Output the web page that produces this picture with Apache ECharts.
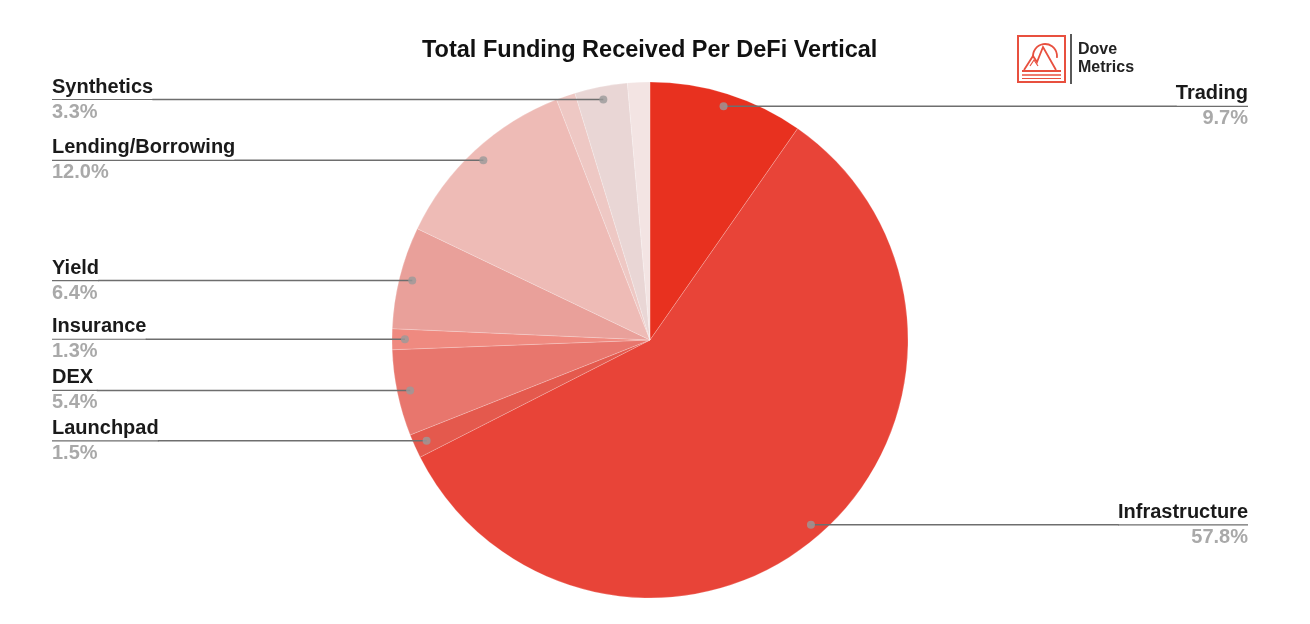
<!DOCTYPE html>
<html>
<head>
<meta charset="utf-8">
<script src="https://cdn.jsdelivr.net/npm/echarts@6/dist/echarts.min.js"></script>
<style>
html,body{margin:0;padding:0;background:#fff;}
#c{width:1310px;height:624px;}
</style>
</head>
<body>
<div id="c"></div>
<script>
var categories = ['Trading','Infrastructure','Launchpad','DEX','Insurance','Yield','Lending/Borrowing','Other (unlabeled)','Synthetics','Other 2 (unlabeled)'];
var values = [9.7, 57.8, 1.5, 5.4, 1.3, 6.4, 12.0, 1.2, 3.3, 1.4];
var labeled = [true, true, true, true, true, true, true, false, true, false];
var colors = ['#e8311f','#e84438','#e4594d','#e8766d','#ef8a80','#e9a09a','#eebbb6','#eec8c4','#e9d6d5','#f3e4e3'];

var FONT = '"Liberation Sans", Arial, sans-serif';

var pieData = categories.map(function(n,i){
  return {name:n, value:values[i], itemStyle:{color:colors[i]}};
});
var labelData = categories.map(function(n,i){
  return {name:n, value:values[i],
    label:{show:labeled[i]}, labelLine:{show:labeled[i]}};
});
// dot positions at mid-angle of each labeled slice (polar, angle in % of total)
var total = values.reduce(function(a,b){return a+b;},0);
var dots = [];
var cum = 0;
values.forEach(function(v,i){
  if (labeled[i]) dots.push([0.95, (cum + v/2) / total * 100]);
  cum += v;
});

var chart = echarts.init(document.getElementById('c'), null, {renderer:'canvas'});
chart.setOption({
  backgroundColor:'#fff',
  animation:false,
  title:{
    text:'Total Funding Received Per DeFi Vertical',
    left:417, top:34,
    textStyle:{fontFamily:FONT, fontSize:23.5, fontWeight:'bold', color:'#111'}
  },
  polar:{center:[650,340], radius:258},
  angleAxis:{type:'value', min:0, max:100, startAngle:90, clockwise:true, show:false},
  radiusAxis:{type:'value', min:0, max:1, show:false},
  series:[
    {
      type:'pie',
      center:[650,340],
      radius:258,
      startAngle:90,
      label:{show:false},
      labelLine:{show:false},
      silent:true,
      itemStyle:{borderColor:'rgba(255,255,255,0.4)', borderWidth:0.5},
      data:pieData,
      z:1
    },
    {
      type:'pie',
      left:0, right:10, top:0, bottom:0,
      center:[650,340],
      radius:245,
      startAngle:90,
      silent:true,
      itemStyle:{color:'rgba(0,0,0,0)'},
      label:{
        show:true,
        position:'outer',
        alignTo:'edge',
        edgeDistance:52,
        distanceToLabelLine:-2,
        formatter:function(p){ return '{n|'+p.name+'}\n{hr|}\n{p|'+p.value.toFixed(1)+'%}'; },
        rich:{
          n:{fontFamily:FONT, fontSize:20, fontWeight:'bold', color:'#1a1a1a', lineHeight:25},
          hr:{width:'100%', height:0, borderWidth:1.2, borderColor:'#6e6e6e'},
          p:{fontFamily:FONT, fontSize:20, fontWeight:'bold', color:'#a9a9a9', lineHeight:25}
        }
      },
      labelLine:{show:true, length:0, length2:0, lineStyle:{color:'#6e6e6e', width:1.5}},
      data:labelData,
      z:2
    },
    {
      type:'scatter',
      coordinateSystem:'polar',
      symbol:'circle',
      symbolSize:8,
      itemStyle:{color:'#9a9a9a'},
      silent:true,
      data:dots,
      z:5
    }
  ],
  graphic:[
    {type:'rect', shape:{x:1018, y:36, width:47, height:46}, style:{fill:'none', stroke:'#e8503f', lineWidth:2}},
    {type:'arc', shape:{cx:1045, cy:56, r:12, startAngle:Math.PI*0.95, endAngle:Math.PI*2.05}, style:{fill:'none', stroke:'#e8503f', lineWidth:1.8}},
    {type:'polyline', shape:{points:[[1024,70],[1033,56],[1037,62],[1043,47],[1056,70]]}, style:{fill:'none', stroke:'#e8503f', lineWidth:1.8}},
    {type:'polyline', shape:{points:[[1030,66],[1034,60],[1038,66]]}, style:{fill:'none', stroke:'#e8503f', lineWidth:1.2}},
    {type:'line', shape:{x1:1022, y1:71, x2:1061, y2:71}, style:{stroke:'#e8503f', lineWidth:1.8}},
    {type:'line', shape:{x1:1022, y1:75, x2:1061, y2:75}, style:{stroke:'#e8503f', lineWidth:1.5}},
    {type:'line', shape:{x1:1022, y1:78.5, x2:1061, y2:78.5}, style:{stroke:'#e8503f', lineWidth:1.2}},
    {type:'line', shape:{x1:1071, y1:34, x2:1071, y2:84}, style:{stroke:'#222', lineWidth:1.5}},
    {type:'text', x:1078, y:42, style:{text:'Dove', fontFamily:FONT, fontSize:16, fontWeight:'bold', fill:'#222'}},
    {type:'text', x:1078, y:60, style:{text:'Metrics', fontFamily:FONT, fontSize:16, fontWeight:'bold', fill:'#222'}}
  ]
});
</script>
</body>
</html>
